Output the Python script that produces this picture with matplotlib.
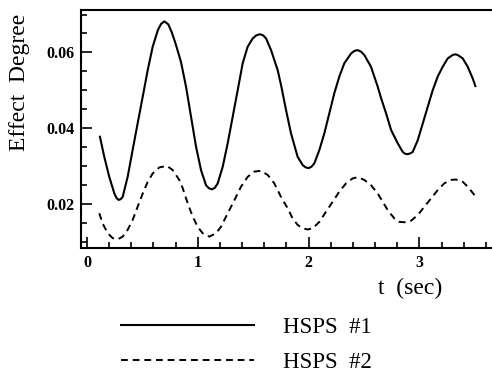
import matplotlib
matplotlib.use("Agg")
from matplotlib import pyplot as plt
from matplotlib.ticker import MultipleLocator, FormatStrFormatter

plt.rcParams['font.family'] = ['Liberation Serif', 'DejaVu Serif']

# values
t1 = [0.117, 0.156, 0.201, 0.247, 0.267, 0.286, 0.304, 0.322, 0.367, 0.412,
      0.457, 0.503, 0.548, 0.593, 0.640, 0.668, 0.698, 0.734, 0.764, 0.794,
      0.818, 0.848, 0.894, 0.939, 0.984, 1.029, 1.074, 1.100, 1.128, 1.154,
      1.180, 1.225, 1.270, 1.315, 1.360, 1.405, 1.450, 1.496, 1.528, 1.561,
      1.590, 1.616, 1.661, 1.721, 1.751, 1.796, 1.841, 1.901, 1.947, 1.974,
      2.001, 2.027, 2.052, 2.097, 2.142, 2.187, 2.232, 2.277, 2.322, 2.383,
      2.413, 2.443, 2.473, 2.503, 2.563, 2.624, 2.653, 2.699, 2.744, 2.804,
      2.849, 2.872, 2.894, 2.917, 2.940, 2.985, 3.030, 3.075, 3.120, 3.165,
      3.210, 3.255, 3.300, 3.323, 3.346, 3.391, 3.436, 3.481, 3.505]
hsps1 = [0.0377, 0.0324, 0.0271, 0.0227, 0.0215, 0.0210, 0.0212, 0.0218, 0.0271, 0.0342,
         0.0412, 0.0483, 0.0553, 0.0615, 0.0659, 0.0675, 0.0682, 0.0674, 0.0654, 0.0628,
         0.0605, 0.0575, 0.0509, 0.0430, 0.0351, 0.0289, 0.0249, 0.0241, 0.0238, 0.0242,
         0.0254, 0.0298, 0.0360, 0.0430, 0.0500, 0.0571, 0.0615, 0.0637, 0.0645, 0.0648,
         0.0645, 0.0637, 0.0606, 0.0553, 0.0514, 0.0448, 0.0386, 0.0324, 0.0302, 0.0296,
         0.0294, 0.0298, 0.0307, 0.0342, 0.0386, 0.0439, 0.0492, 0.0536, 0.0571, 0.0597,
         0.0604, 0.0606, 0.0602, 0.0593, 0.0562, 0.0509, 0.0480, 0.0439, 0.0395, 0.0360,
         0.0337, 0.0332, 0.0331, 0.0333, 0.0337, 0.0368, 0.0412, 0.0456, 0.0500, 0.0536,
         0.0562, 0.0584, 0.0593, 0.0595, 0.0593, 0.0584, 0.0562, 0.0531, 0.0511]

t2 = [0.111, 0.141, 0.187, 0.232, 0.277, 0.322, 0.367, 0.412, 0.457, 0.503,
      0.548, 0.593, 0.653, 0.722, 0.773, 0.833, 0.864, 0.909, 0.954, 0.999,
      1.044, 1.104, 1.164, 1.209, 1.255, 1.300, 1.345, 1.390, 1.450, 1.510,
      1.570, 1.631, 1.690, 1.751, 1.811, 1.856, 1.901, 1.947, 1.992, 2.037,
      2.097, 2.157, 2.217, 2.277, 2.338, 2.398, 2.443, 2.503, 2.563, 2.624,
      2.669, 2.714, 2.774, 2.819, 2.864, 2.924, 2.985, 3.044, 3.105, 3.165,
      3.225, 3.285, 3.330, 3.391, 3.436, 3.472, 3.505]
hsps2 = [0.0175, 0.0148, 0.0122, 0.0109, 0.0106, 0.0113, 0.0131, 0.0157, 0.0192, 0.0227,
         0.0258, 0.0280, 0.0296, 0.0300, 0.0289, 0.0263, 0.0241, 0.0201, 0.0166, 0.0139,
         0.0122, 0.0113, 0.0122, 0.0139, 0.0166, 0.0192, 0.0218, 0.0245, 0.0271, 0.0285,
         0.0287, 0.0276, 0.0254, 0.0218, 0.0188, 0.0161, 0.0144, 0.0135, 0.0132, 0.0135,
         0.0152, 0.0179, 0.0205, 0.0232, 0.0254, 0.0267, 0.0270, 0.0263, 0.0249, 0.0227,
         0.0205, 0.0183, 0.0161, 0.0152, 0.0151, 0.0155, 0.0170, 0.0192, 0.0214, 0.0236,
         0.0254, 0.0263, 0.0264, 0.0258, 0.0245, 0.0232, 0.0220]

labels = ["HSPS  #1", "HSPS  #2"]

fig = plt.figure(figsize=(4.92, 3.74), dpi=100)
ax = fig.add_axes([81 / 492, 126 / 374, 1 - 81 / 492, 238 / 374])

l1, = ax.plot(t1, hsps1, color='black', lw=1.5, solid_joinstyle='round')
l2, = ax.plot(t2, hsps2, color='black', lw=1.4, linestyle=(0, (3.5, 2.5)),
              dash_joinstyle='round')

ax.set_xlim(-0.054, 3.655)
ax.set_ylim(0.0083, 0.0712)

ax.spines['right'].set_visible(False)
for s in ['left', 'top', 'bottom']:
    ax.spines[s].set_linewidth(1.5)

ax.xaxis.set_major_locator(MultipleLocator(1))
ax.xaxis.set_minor_locator(MultipleLocator(0.2))
ax.yaxis.set_major_locator(MultipleLocator(0.02))
ax.yaxis.set_minor_locator(MultipleLocator(0.005))
ax.yaxis.set_major_formatter(FormatStrFormatter('%.2f'))
ax.tick_params(which='both', direction='in', top=False, right=False, width=1.2)
ax.tick_params(which='major', length=8, labelsize=11.5, pad=5)
ax.tick_params(which='minor', length=4.5)
for lab in ax.get_xticklabels() + ax.get_yticklabels():
    lab.set_fontweight('bold')

fig.text(20 / 492, 1 - 82 / 374, "Effect  Degree", rotation=90,
         ha='center', va='center', fontsize=17)
fig.text(410 / 492, 1 - 288 / 374, "t  (sec)", ha='center', va='center', fontsize=17)

fig.legend([l1, l2], labels, loc='upper left', bbox_to_anchor=(121 / 492, 1 - 317 / 374),
           frameon=False, fontsize=16.5, handlelength=5.8, handletextpad=1.25,
           labelspacing=0.62, borderaxespad=0, borderpad=0)

fig.savefig("out.png", dpi=100)
